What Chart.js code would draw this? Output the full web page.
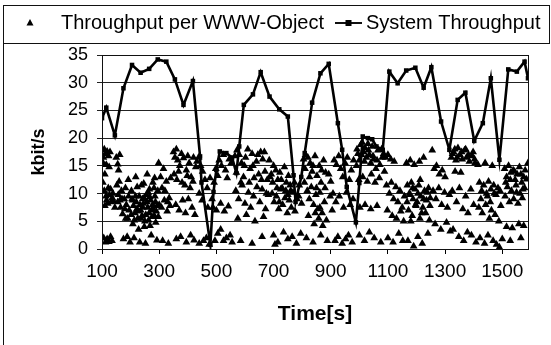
<!DOCTYPE html>
<html><head><meta charset="utf-8">
<script src="https://cdn.jsdelivr.net/npm/chart.js@4"></script>
<style>html,body{margin:0;padding:0;background:#fff}#wrap{width:551px;height:345px;position:relative}</style>
</head><body><div id="wrap"><canvas id="c" width="551" height="345"></canvas></div>
<script>
// System throughput line (time s, kbit/s)
const sysTime = [100,115,145,175,205,235,265,295,325,355,385,418,443,448,479,490,500,512,535,555,570,580,596,628,655,686,720,750,770,777,797,809,835,864,893,925,940,956,988,1000,1012,1030,1045,1060,1082,1105,1134,1164,1196,1225,1252,1286,1315,1344,1371,1402,1432,1460,1490,1521,1551,1578,1590];
const sysRate = [23.6,25.5,20.5,29,33.2,31.8,32.5,34.2,33.8,30.6,26,30.3,16.7,12,0.8,10.3,14.3,17.6,17.3,16.5,13.7,18.5,26,27.9,31.9,27.5,25.2,23.9,13.3,8.5,13,17.3,26.4,31.7,33.4,22.7,17.9,11.2,4.8,11.9,20.3,20,19.8,18.5,17.9,32,29.9,32.2,32.7,29.1,32.8,23,17.9,26.9,28.2,19.5,22.7,30.8,16.1,32.4,32,33.8,30.8];

// Throughput per WWW-object (time s, kbit/s)
const objTime = [102,105,108,112,118,123,128,104,115,110,125,103,108,114,120,126,132,106,112,118,124,130,138,140,145,135,
150,155,158,162,152,160,168,155,165,172,178,185,190,195,175,188,198,182,192,
205,210,215,220,225,230,235,240,245,250,255,260,265,270,275,280,285,290,295,208,228,248,268,288,212,232,252,272,292,218,238,258,278,298,242,262,282,300,
305,310,315,320,325,330,335,340,308,318,328,338,312,332,
350,355,360,365,372,378,385,395,400,405,412,420,352,362,368,380,390,398,408,418,428,358,370,382,392,402,415,425,360,375,395,410,422,
432,438,445,452,460,468,440,450,470,440,455,465,475,478,
485,492,498,505,510,518,525,532,538,545,552,488,500,515,528,542,495,505,515,525,535,548,555,
565,572,580,588,595,602,610,618,625,632,640,648,655,662,670,678,685,568,578,590,600,612,620,630,642,652,660,672,682,575,605,635,665,585,625,660,
692,700,708,715,722,730,738,745,752,760,695,702,710,718,725,732,740,748,755,762,768,775,782,790,798,700,715,735,750,765,780,795,705,
805,812,820,828,835,845,852,860,868,875,882,808,818,825,832,840,848,855,862,870,878,885,822,842,858,872,815,838,865,888,
893,900,898,905,912,920,928,935,942,950,958,965,972,980,908,918,930,945,955,968,978,915,925,940,952,962,975,
990,995,1000,1005,1010,1015,1020,1025,1030,1035,1040,1045,1050,1058,1065,1072,1080,1088,998,1012,1028,1042,1055,1070,1002,1020,1040,1062,1000,1018,1035,1052,1075,
1092,1100,1110,1122,1095,1105,1112,1120,1128,1135,1142,1150,1158,1098,1115,1130,1145,1155,1100,1118,1138,1152,
1165,1178,1192,1210,1225,1168,1175,1182,1188,1195,1202,1208,1215,1222,1228,1235,1242,1248,1172,1185,1198,1212,1232,1245,1170,1190,1205,1220,1240,
1255,1262,1270,1280,1290,1300,1258,1268,1278,1288,1298,1308,1315,1265,1285,1305,1318,
1322,1330,1338,1345,1352,1360,1368,1375,1385,1395,1405,1335,1355,1325,1340,1350,1362,1372,1380,1390,1400,1328,1348,1365,1378,1392,1408,
1415,1440,1465,1420,1428,1435,1445,1452,1460,1470,1478,1485,1418,1430,1442,1455,1462,1475,1488,1495,1422,1438,1450,1468,1480,1490,1500,
1508,1515,1522,1530,1538,1545,1552,1560,1568,1575,1510,1518,1525,1532,1540,1548,1555,1562,1570,1578,1585,1590,1515,1535,1558,1575,1528,1565,
202,207,213,217,222,227,233,237,243,247,253,257,263,267,273,277,283,287,293,297,203,223,246,266,284,
157,163,170,180,193,183,110,116,122,130,136,
570,586,598,615,628,645,658,668,675,688,
992,1008,1018,1032,1048,1062,1078,1085,
1167,1178,1187,1197,1205,1213,1225,1238,1247,1180,1218,
1326,1334,1342,1358,1372,1382,1398,1403,
810,826,838,850,866,880,846,862,
697,712,727,743,758,773,788,720,750,
1425,1448,1472,1492,1458,
1512,1528,1543,1565,1580,1550,1572];
const objRate = [17.8,16.5,18,17.2,17.6,16.8,17.5,15.5,15.2,13.5,14.8,12,10.5,9.5,8.2,9.8,8.5,2,1.2,1.8,1.3,2.2,10,8.7,7.5,1.5,
16.5,15.3,14.2,17,11.5,12.2,10.5,8.5,7.5,6.3,9,8,5.5,7,1.8,2.2,1.2,11,12.5,
9,7.8,6.5,8.5,5.5,9.5,7,6,8.2,5,9.8,7.5,6.5,8.8,5.8,7.2,9.5,6.8,10.5,4.5,3.5,4,4.2,4.8,2,1.2,1,2.5,1.6,13,11.5,13.5,12,15.5,9,10.2,11,8,
13,11,14.5,10.5,12.2,8.5,9.2,12.8,7.5,8.8,6.8,7.8,1.5,1,
17.5,16.5,18,16,15,17.2,16.4,14.2,16.8,15.5,13,16.5,13.5,12.5,14,12,11.5,13.2,11,12.2,14.8,8,7,8.8,6.5,9,7.5,6.2,1.8,2.2,1.2,2.5,1.6,
15.8,16.5,15,14,12.5,11,10,8.8,7.5,1,1.5,2,0.8,12.8,
9,12,14.5,13.2,16,15,17,14.2,12.8,16.2,15.5,7.5,7,8.2,6.8,7.7,1.5,2.8,3.5,1.5,2,2.5,1.2,
16.8,17.8,17,15.5,13,16.5,18,14.5,17.2,12.8,15.8,13.5,17.5,16.2,14,12.5,16,10.5,9,11.5,8.2,10.2,7.5,9.5,11.2,8.5,10.8,7.2,9.8,5.5,6.2,5,5.8,1.5,1,2.2,
13.5,15,14.2,12.5,13.8,11,14.8,12,13.2,10.5,10,8.5,9.5,7.2,10.8,8,9.2,6.5,8.8,7.5,10.2,6.8,9,11.5,8.2,2.5,1.2,3,1.8,2.2,1,2.8,0.8,
16.2,17,16.5,15.5,14,16.8,13.2,15,14.2,16,13.8,12,10.5,9,11.2,8,9.8,7.2,10.2,6.5,8.5,5.2,6,4.5,5.5,4.2,2,1.2,2.5,1.5,
13.5,12.2,9.5,7,16,15.2,16.8,14.5,13,15.5,16.5,12.5,14.2,16,10,8.5,9.5,7.5,10.2,8,9,1.5,2.2,1,1.8,2.5,1.2,
15,17.2,16,18.8,19.2,17.5,18.2,16.5,19,17,15.5,18.5,16.2,14.5,17.8,15.2,16.5,14,12.5,13,12.2,13.5,12,12.8,7.5,8,7.2,7.8,2.5,1.5,3,2,1.2,
16.5,17,16.2,15.8,11.5,10,12,9,11.2,8.5,10.5,7.5,9.5,7,6,5.5,6.8,5,2,1.2,2.8,1.5,
15.5,16,15.2,15.8,16.5,11.5,10,12,9,10.8,8.5,11.5,9.5,7.5,10.5,8.8,11,9.2,7,6,7.8,5.5,6.5,5.2,1.5,0.5,2.2,1,2.8,
17.8,14.5,15,13.5,14.2,13,10.5,9,11,8,10.2,7.5,9.8,4.5,3.5,4.8,3.2,
16.5,17.5,16,18.2,17,16.2,17.8,16.5,15.8,16.8,15.5,14,13.8,10.5,8.5,11,7.2,9.5,6.5,10.8,8,3.5,2.2,1.5,3,2.5,1.2,
15.2,15.5,15,12,10.5,11.5,10,12.2,10.8,11.5,9.8,11,7.5,6.5,8,5.5,7,6.2,5,7.8,2,1,2.5,1.5,0.8,0.3,1.8,
14.5,13,15,13.8,14.2,12.5,13.5,14.8,12,13,9.5,11.2,8.5,10.5,9,11.5,8.2,10,9.2,11,12.6,15.5,4,3.8,4.5,4.2,1.5,2,
6.2,8.8,5.2,9.5,7.2,6.8,8,5.5,7.5,9.2,6.2,8.5,5.2,9.4,7,8,6,8.5,7.8,5.8,10.5,11.2,11.8,10.8,12.8,
9.8,8.8,9,7.2,9.5,5.5,7.8,8.8,11,10.8,9.2,
13.8,12,15,12,15,17,12.5,17.5,10,13,
18,17,15.8,17.8,16.8,16,18,17.2,
8.5,9.8,11,8,10,12.5,9,10.2,7.8,5,6.5,
17.2,18,16.5,17.5,18,17,17.5,16.2,
14.5,13,15,11,12,11,6.5,7.5,
12,11,12.5,10.5,11.5,12,9.5,8.5,9.8,
9,9.5,10,10.5,8.5,
12,12.5,14,13.5,14.2,10.2,10.8];

const xTicks = [100,300,500,700,900,1100,1300,1500];
const yTicks = [0,5,10,15,20,25,30,35];
const seriesNames = ['Throughput per WWW-Object','System Throughput'];

const FONT = '"Liberation Sans", Arial, sans-serif';

const frame = {
  id: 'frame',
  afterDraw(chart) {
    const ctx = chart.ctx, a = chart.chartArea;
    ctx.save();
    ctx.strokeStyle = '#111';
    ctx.lineWidth = 1;
    ctx.strokeRect(Math.round(a.left)+0.5, Math.round(a.top)+0.5, Math.round(a.right-a.left), Math.round(a.bottom-a.top));
    // outer / legend box
    ctx.strokeRect(3.5, 5.5, 546, 38);
    ctx.beginPath(); ctx.moveTo(3.5, 43); ctx.lineTo(3.5, 345); ctx.stroke();
    // legend
    ctx.fillStyle = '#000';
    ctx.font = '20px ' + FONT;
    ctx.textBaseline = 'middle';
    ctx.textAlign = 'left';
    ctx.beginPath(); ctx.moveTo(30, 19); ctx.lineTo(33.5, 25.5); ctx.lineTo(26.5, 25.5); ctx.closePath(); ctx.fill();
    ctx.fillText(seriesNames[0], 61, 23);
    ctx.lineWidth = 2;
    ctx.beginPath(); ctx.moveTo(335, 23); ctx.lineTo(362, 23); ctx.stroke();
    ctx.fillRect(345.5, 20, 6, 6);
    ctx.fillText(seriesNames[1], 366, 23);
    ctx.restore();
  }
};

new Chart(document.getElementById('c'), {
  type: 'scatter',
  data: {
    datasets: [
      {
        label: seriesNames[1],
        data: sysTime.map((t, i) => ({x: t, y: sysRate[i]})),
        showLine: true,
        borderColor: '#000',
        backgroundColor: '#000',
        borderWidth: 2.6,
        pointStyle: 'rect',
        pointRadius: 3.2,
        pointBorderWidth: 0,
        tension: 0,
        order: 0
      },
      {
        label: seriesNames[0],
        data: objTime.map((t, i) => ({x: t, y: objRate[i]})),
        showLine: false,
        borderColor: '#000',
        backgroundColor: '#000',
        pointStyle: 'triangle',
        pointRadius: 4.5,
        pointBorderWidth: 0,
        order: 1
      }
    ]
  },
  options: {
    responsive: false,
    animation: false,
    devicePixelRatio: 1,
    layout: { padding: { left: 0, right: 23, top: 55, bottom: 0 } },
    plugins: { legend: { display: false }, tooltip: { enabled: false } },
    scales: {
      x: {
        type: 'linear',
        min: 100, max: 1590,
        afterBuildTicks: s => { s.ticks = xTicks.map(v => ({value: v})); },
        afterFit: s => { s.height = 96; },
        grid: { display: true, drawOnChartArea: false, drawTicks: true, tickLength: 5, color: '#000' },
        border: { display: true, color: '#000' },
        ticks: { color: '#000', font: { family: FONT, size: 19 }, padding: 6, maxRotation: 0, autoSkip: false, callback: v => String(v) },
        title: { display: true, text: 'Time[s]', color: '#000', font: { family: FONT, size: 21, weight: 'bold' }, padding: { top: 0, bottom: 18 } }
      },
      y: {
        min: 0, max: 35,
        afterBuildTicks: s => { s.ticks = yTicks.map(v => ({value: v})); },
        afterFit: s => { s.width = 102; },
        grid: { color: '#222', lineWidth: 1, drawTicks: true, tickLength: 5 },
        border: { display: true, color: '#000' },
        ticks: { color: '#000', font: { family: FONT, size: 18 }, padding: 9, callback: v => String(v) },
        title: { display: true, text: 'kbit/s', color: '#000', font: { family: FONT, size: 18, weight: 'bold' }, padding: { top: 28, bottom: 0 } }
      }
    }
  },
  plugins: [frame]
});
</script></body></html>
